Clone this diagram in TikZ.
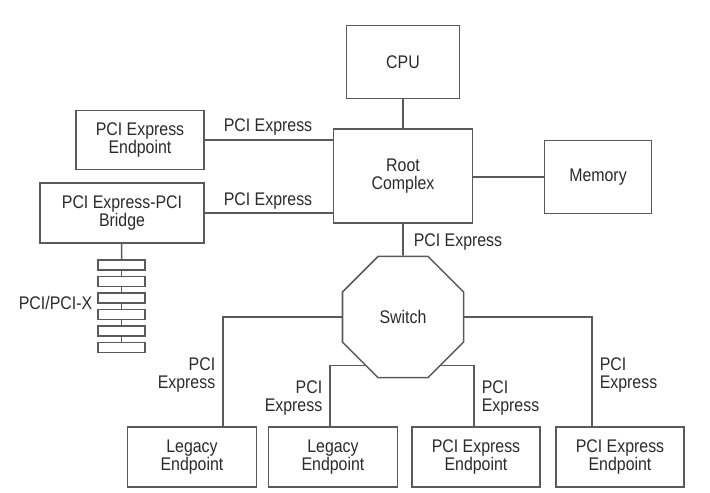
\documentclass[tikz,border=0pt]{standalone}
\usepackage{fontspec}
\setmainfont{Liberation Sans}[FakeStretch=0.87]
\usetikzlibrary{shapes.geometric}
\definecolor{linegray}{HTML}{5A5A5A}
\definecolor{textgray}{HTML}{2B2B2B}

\begin{document}
\begin{tikzpicture}[x=0.025cm, y=-0.025cm, line width=1.1pt, color=linegray,
    every node/.style={text=textgray, font=\fontsize{13}{13.2}\selectfont, align=center},
    box/.style={draw, fill=white, inner sep=0pt},
    slot/.style={draw, fill=white, minimum width=1.175cm, minimum height=0.25cm, inner sep=0pt},
    lbl/.style={inner sep=0pt}]
  \useasboundingbox (0,0) rectangle (710,493);
  \node[box, minimum width=2.825cm, minimum height=1.825cm] (cpu) at (403,62) {CPU};
  \node[box, minimum width=3.475cm, minimum height=2.35cm] (rc) at (403,176) {Root\\Complex};
  \node[box, minimum width=2.675cm, minimum height=1.825cm] (mem) at (598,177) {Memory};
  \node[box, minimum width=3.2cm, minimum height=1.475cm] (ep) at (140,140) {PCI Express\\Endpoint};
  \node[box, minimum width=4.1cm, minimum height=1.5cm] (br) at (122,213) {PCI Express-PCI\\Bridge};
  \node[draw, fill=white, regular polygon, regular polygon sides=8, minimum size=3.275cm, inner sep=0pt] (sw) at (403,317) {Switch};
  \node[box, minimum width=3.225cm, minimum height=1.5cm] (leg1) at (192,457) {Legacy\\Endpoint};
  \node[box, minimum width=3.225cm, minimum height=1.5cm] (leg2) at (333,457) {Legacy\\Endpoint};
  \node[box, minimum width=3.2cm, minimum height=1.5cm] (ep3) at (476,457) {PCI Express\\Endpoint};
  \node[box, minimum width=3.2cm, minimum height=1.5cm] (ep4) at (620,457) {PCI Express\\Endpoint};
  \foreach \i in {1,...,6}
    \node[slot] (s\i) at (121.5, 248.5+16.5*\i) {};

  \draw (cpu) -- (rc);
  \draw (rc.east |- mem) -- (mem.west);
  \draw (ep.east) -- (ep.east -| rc.west);
  \draw (br.east) -- (br.east -| rc.west);
  \draw (rc) -- (sw);
  \draw (br) -- (s1);
  \foreach \i [count=\j from 2] in {1,...,5}
    \draw (s\i) -- (s\j);
  \draw (sw.west) -| ([xshift=0.775cm]leg1.north);
  \draw (sw.232) -| ([xshift=-0.075cm]leg2.north);
  \draw (sw.-52) -| ([xshift=-0.05cm]ep3.north);
  \draw (sw.east) -| ([xshift=-0.7cm]ep4.north);

  \node[lbl] (lep) at (268,127) {PCI Express};
  \node[lbl] (lbr) at (268,201) {PCI Express};
  \node[lbl, anchor=west] (lsw) at (413,242) {PCI Express};
  \node[lbl, anchor=east] (lbus) at (93,303) {PCI/PCI-X};
  \node[lbl, anchor=east, align=right] (lleg1) at (216,375) {PCI\\Express};
  \node[lbl, anchor=east, align=right] (lleg2) at (323,398) {PCI\\Express};
  \node[lbl, anchor=west, align=left] (lep3) at (481,398) {PCI\\Express};
  \node[lbl, anchor=west, align=left] (lep4) at (599,375) {PCI\\Express};
\end{tikzpicture}
\end{document}
